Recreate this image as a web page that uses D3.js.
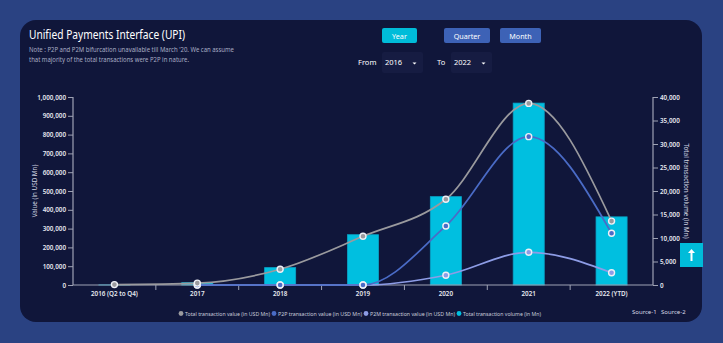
<!DOCTYPE html>
<html><head><meta charset="utf-8">
<script src="https://cdn.jsdelivr.net/npm/d3@7"></script>
<style>
html,body{margin:0;padding:0;background:#2a4282;}
svg{display:block;font-family:"Noto Sans","Open Sans",sans-serif;}
</style></head><body>
<svg id="c" width="723" height="343"></svg>
<script>
const categories = ["2016 (Q2 to Q4)","2017","2018","2019","2020","2021","2022 (YTD)"];
const totalValue = [2000, 10000, 84000, 259000, 456000, 966000, 340000];
const p2pValue   = [null, 0, 0, 0, 314000, 789000, 275000];
const p2mValue   = [null, 0, 0, 0, 52000, 174000, 65000];
const totalVolume = [20, 500, 3700, 10700, 18800, 38700, 14500];
const leftTicks = [0,100000,200000,300000,400000,500000,600000,700000,800000,900000,1000000];
const rightTicks = [0,5000,10000,15000,20000,25000,30000,35000,40000];
const seriesNames = ["Total transaction value (in USD Mn)","P2P transaction value (in USD Mn)","P2M transaction value (in USD Mn)","Total transaction volume (in Mn)"];
const seriesColors = ["#9a9a9e","#4a6bc6","#8d9ce6","#00bfe0"];

const svg = d3.select("#c");
svg.append("rect").attr("width",723).attr("height",343).attr("fill","#2a4282");
svg.append("rect").attr("x",20).attr("y",20).attr("width",682).attr("height",302).attr("rx",16).attr("fill","#10163a");

// fit helper
function fit(sel, w){ return sel.attr("textLength",w).attr("lengthAdjust","spacingAndGlyphs"); }

// title + note
fit(svg.append("text").attr("x",29).attr("y",39).attr("fill","#ffffff").attr("font-size",12.5).text("Unified Payments Interface (UPI)"),156);
const note = ["Note : P2P and P2M bifurcation unavailable till March '20. We can assume","that majority of the total transactions were P2P in nature."];
const noteW = [205,160];
note.forEach((t,i)=>fit(svg.append("text").attr("x",29).attr("y",52+i*10).attr("fill","#a9adc4").attr("font-size",6.8).text(t),noteW[i]));

// buttons
const btns = [{t:"Year",x:382,w:35,c:"#00bcd9"},{t:"Quarter",x:444,w:46,c:"#3d62b6"},{t:"Month",x:500,w:41,c:"#3d62b6"}];
btns.forEach(b=>{
  svg.append("rect").attr("x",b.x).attr("y",28).attr("width",b.w).attr("height",15).attr("rx",2).attr("fill",b.c);
  svg.append("text").attr("x",b.x+b.w/2).attr("y",38.5).attr("text-anchor","middle").attr("fill","#fff").attr("font-size",7.2).text(b.t);
});
// selects
svg.append("text").attr("x",358).attr("y",65).attr("fill","#ffffff").attr("font-size",7.5).text("From");
svg.append("rect").attr("x",382).attr("y",52).attr("width",41).attr("height",21).attr("rx",2).attr("fill","#161c42");
svg.append("text").attr("x",385).attr("y",65).attr("fill","#ffffff").attr("font-size",7.5).text("2016");
svg.append("path").attr("d","M412.5,62.5 l4,0 l-2,2 z").attr("fill","#fff");
svg.append("text").attr("x",437).attr("y",65).attr("fill","#ffffff").attr("font-size",7.5).text("To");
svg.append("rect").attr("x",451).attr("y",52).attr("width",41).attr("height",21).attr("rx",2).attr("fill","#161c42");
svg.append("text").attr("x",454).attr("y",65).attr("fill","#ffffff").attr("font-size",7.5).text("2022");
svg.append("path").attr("d","M481.5,62.5 l4,0 l-2,2 z").attr("fill","#fff");

// scales
const x = d3.scaleBand().domain(categories).range([73,653]).padding(0);
const yL = d3.scaleLinear().domain([0,1000000]).range([285,97]);
const yR = d3.scaleLinear().domain([0,40000]).range([285,97]);
const cx = d => x(d)+x.bandwidth()/2;
const axisCol = "#9ea2b4";

// bars
const bw = x.bandwidth()*0.375;
svg.append("g").selectAll("rect").data(categories).join("rect")
  .attr("x",(d)=>cx(d)-bw/2).attr("width",bw)
  .attr("y",(d,i)=>yR(totalVolume[i])).attr("height",(d,i)=>yR(0)-yR(totalVolume[i]))
  .attr("fill","#00bfe0").attr("stroke","#0aa3c6").attr("stroke-width",0.8);

// axes
const fmt = d3.format(",");
const gL = svg.append("g").attr("transform","translate(73,0)")
  .call(d3.axisLeft(yL).tickValues(leftTicks).tickFormat(fmt).tickSize(5).tickPadding(2));
const gR = svg.append("g").attr("transform","translate(653,0)")
  .call(d3.axisRight(yR).tickValues(rightTicks).tickFormat(fmt).tickSize(5).tickPadding(2));
const gX = svg.append("g").attr("transform","translate(0,285)")
  .call(d3.axisBottom(x).tickSize(0).tickPadding(7));
// boundary ticks
svg.append("g").selectAll("line").data(categories.slice(1)).join("line")
  .attr("x1",d=>x(d)).attr("x2",d=>x(d)).attr("y1",285).attr("y2",290).attr("stroke",axisCol);
[gL,gR,gX].forEach(g=>{
  g.selectAll(".domain").attr("stroke",axisCol).attr("stroke-width",1.2);
  g.selectAll(".tick line").attr("stroke",axisCol);
  g.selectAll("text").attr("fill","#e6e8f0").attr("font-size",6.3).attr("font-weight",600).attr("font-family","'Noto Sans',sans-serif");
});
gL.select(".domain").attr("d","M0,97V285H0");
gR.select(".domain").attr("d","M0,97V285H0");
gX.select(".domain").attr("d","M73,0H653");

svg.append("text").attr("transform","translate(37,191) rotate(-90)").attr("text-anchor","middle")
  .attr("fill","#d0d3e0").attr("font-size",6.3).text("Value (in USD Mn)");
svg.append("text").attr("transform","translate(684,191) rotate(90)").attr("text-anchor","middle")
  .attr("fill","#d0d3e0").attr("font-size",6.3).text("Total transaction volume (in Mn)");

// lines
const line = d3.line().defined(d=>d.v!=null).x(d=>cx(d.c)).y(d=>yL(d.v)).curve(d3.curveMonotoneX);
const order = [[p2mValue,seriesColors[2]],[p2pValue,seriesColors[1]],[totalValue,seriesColors[0]]];
order.forEach(([s,col])=>{
  const data = categories.map((c,i)=>({c,v:s[i]}));
  svg.append("path").datum(data).attr("d",line).attr("fill","none").attr("stroke",col).attr("stroke-width",1.7);
});
order.forEach(([s,col])=>{
  const data = categories.map((c,i)=>({c,v:s[i]})).filter(d=>d.v!=null);
  svg.append("g").selectAll("circle").data(data).join("circle")
    .attr("cx",d=>cx(d.c)).attr("cy",d=>yL(d.v)).attr("r",3)
    .attr("fill",col).attr("stroke","#eef0f6").attr("stroke-width",1.4);
});

// legend
const legX = [181,274,366,459];
const legW = [85,84,85,78];
seriesNames.forEach((n,i)=>{
  svg.append("circle").attr("cx",legX[i]).attr("cy",313.5).attr("r",2.4).attr("fill",seriesColors[i]);
  fit(svg.append("text").attr("x",legX[i]+4).attr("y",315.8).attr("fill","#c9ccda").attr("font-size",5.6).text(n),legW[i]);
});
svg.append("text").attr("x",632).attr("y",314).attr("fill","#d8dae6").attr("font-size",6).text("Source-1");
svg.append("text").attr("x",661).attr("y",314).attr("fill","#d8dae6").attr("font-size",6).text("Source-2");

// scroll-top button
svg.append("rect").attr("x",680).attr("y",243).attr("width",23).attr("height",24).attr("fill","#00bcd9");
svg.append("path").attr("d","M691.5,249 l-3.5,4 h2.5 v8 h2 v-8 h2.5 z").attr("fill","#fff");
</script>
</body></html>
